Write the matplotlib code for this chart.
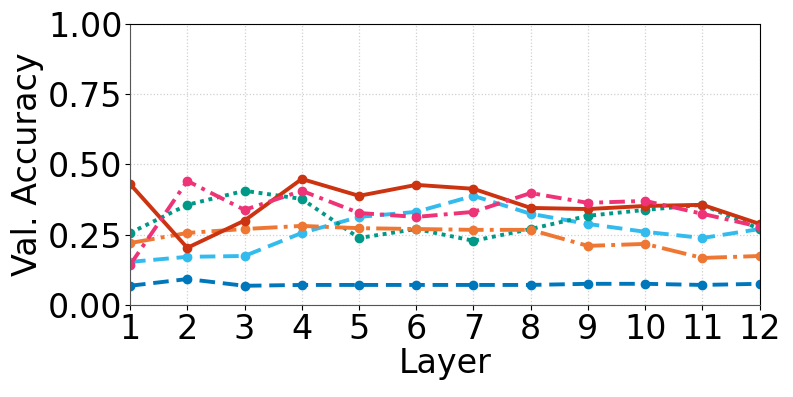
import matplotlib
matplotlib.use("Agg")
import matplotlib.pyplot as plt

layers = list(range(1, 13))

blue = [0.068, 0.092, 0.068, 0.071, 0.071, 0.071, 0.071, 0.071, 0.075, 0.075, 0.071, 0.075]
cyan = [0.153, 0.171, 0.174, 0.256, 0.313, 0.331, 0.388, 0.324, 0.288, 0.260, 0.238, 0.270]
teal = [0.256, 0.356, 0.406, 0.377, 0.238, 0.270, 0.228, 0.270, 0.317, 0.338, 0.356, 0.270]
orange = [0.220, 0.256, 0.270, 0.281, 0.273, 0.270, 0.267, 0.267, 0.210, 0.217, 0.167, 0.174]
red = [0.430, 0.203, 0.300, 0.448, 0.388, 0.427, 0.413, 0.345, 0.341, 0.352, 0.356, 0.288]
magenta = [0.142, 0.441, 0.338, 0.406, 0.327, 0.313, 0.331, 0.398, 0.363, 0.370, 0.324, 0.278]

series = [
    (blue, "#0077BB", (0, (4, 2))),
    (cyan, "#33BBEE", (0, (4, 2))),
    (teal, "#009988", (0, (1, 1.2))),
    (orange, "#EE7733", "-."),
    (red, "#CC3311", "-"),
    (magenta, "#EE3377", (0, (4, 1.6, 1, 1.6))),
]

fig = plt.figure(figsize=(7.93, 3.97), dpi=100)
ax = fig.add_axes([0.164, 0.232, 0.794, 0.708])

for vals, col, ls in series:
    ax.plot(layers, vals, color=col, ls=ls, lw=2.8, marker="o", ms=6)

ax.set_xlim(1, 12)
ax.set_ylim(0, 1)
ax.set_xticks(layers)
ax.set_yticks([0, 0.25, 0.5, 0.75, 1.0])
ax.set_yticklabels(["0.00", "0.25", "0.50", "0.75", "1.00"])
ax.tick_params(labelsize=24, pad=2)
ax.grid(True, ls=":", color="#d0d0d0", lw=0.9)
ax.set_axisbelow(True)
ax.set_xlabel("Layer", fontsize=24, labelpad=1)
ax.set_ylabel("Val. Accuracy", fontsize=24, labelpad=3)
for s in ["left", "bottom"]:
    ax.spines[s].set_color("#555555")

fig.savefig("out.png", dpi=100)
